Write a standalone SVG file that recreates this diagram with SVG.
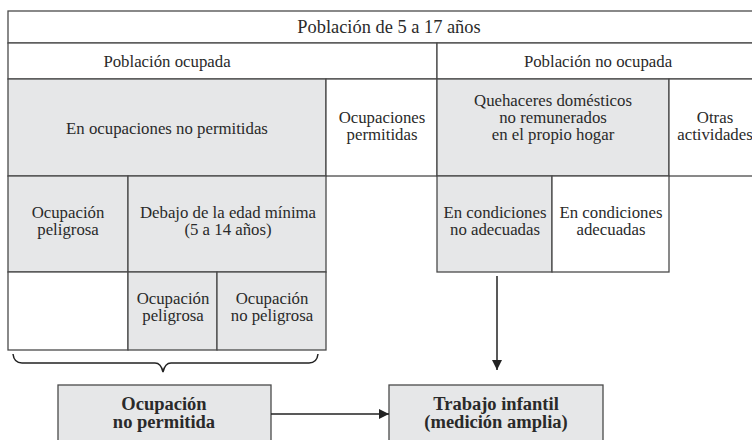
<svg xmlns="http://www.w3.org/2000/svg" width="752" height="440" viewBox="0 0 752 440">
<defs>
<style>
.c{stroke:#4a4a4a;stroke-width:1.3}
.g{fill:#e6e7e8}
.w{fill:#ffffff}
text{font-family:"Liberation Serif","Times New Roman",serif;fill:#2a2a2a;text-anchor:middle;font-size:16.8px}
.t{font-size:18.4px}
.b{font-weight:bold;font-size:18.5px}
.ln{stroke:#222;stroke-width:1.5;fill:none}
</style>
<marker id="ah" viewBox="0 0 10 10" refX="10" refY="5" markerWidth="10" markerHeight="10" markerUnits="userSpaceOnUse" orient="auto">
<path d="M0,0 L10,5 L0,10 z" fill="#222"/>
</marker>
</defs>
<rect width="752" height="440" fill="#fff"/>
<g id="title"><rect class="c w" x="8" y="11" width="752" height="32"/><text class="t" x="389" y="33">Población de 5 a 17 años</text></g>
<g id="pob_ocupada"><rect class="c w" x="8" y="43" width="429" height="36"/><text x="167" y="67">Población ocupada</text></g>
<g id="pob_no_ocupada"><rect class="c w" x="437" y="43" width="323" height="36"/><text x="598" y="67">Población no ocupada</text></g>
<g id="no_permitidas"><rect class="c g" x="8" y="79" width="318" height="97"/><text x="167" y="134">En ocupaciones no permitidas</text></g>
<g id="permitidas"><rect class="c w" x="326" y="79" width="111" height="97"/><text x="382" y="123">Ocupaciones</text><text x="382" y="140">permitidas</text></g>
<g id="quehaceres"><rect class="c g" x="437" y="79" width="232" height="97"/><text x="553" y="106">Quehaceres domésticos</text><text x="553" y="123">no remunerados</text><text x="553" y="140">en el propio hogar</text></g>
<g id="otras"><rect class="c w" x="669" y="79" width="91" height="97"/><text x="715" y="123">Otras</text><text x="715" y="140">actividades</text></g>
<g id="peligrosa1"><rect class="c g" x="8" y="176" width="120" height="96"/><text x="68" y="218">Ocupación</text><text x="68" y="235">peligrosa</text></g>
<g id="debajo"><rect class="c g" x="128" y="176" width="198" height="96"/><text x="228" y="218">Debajo de la edad mínima</text><text x="228" y="235">(5 a 14 años)</text></g>
<g id="no_adecuadas"><rect class="c g" x="437" y="176" width="115" height="96"/><text x="495" y="218">En condiciones</text><text x="495" y="235">no adecuadas</text></g>
<g id="adecuadas"><rect class="c w" x="552" y="176" width="117" height="96"/><text x="611" y="218">En condiciones</text><text x="611" y="235">adecuadas</text></g>
<g id="blank"><rect class="c w" x="8" y="272" width="120" height="78"/></g>
<g id="peligrosa2"><rect class="c g" x="128" y="272" width="89" height="78"/><text x="173" y="304">Ocupación</text><text x="173" y="321">peligrosa</text></g>
<g id="no_peligrosa"><rect class="c g" x="217" y="272" width="109" height="78"/><text x="272" y="304">Ocupación</text><text x="272" y="321">no peligrosa</text></g>
<g id="ocup_no_permitida"><rect class="c g" x="58" y="385" width="213" height="62"/><text class="b" x="164" y="410">Ocupación</text><text class="b" x="164" y="428">no permitida</text></g>
<g id="trabajo_infantil"><rect class="c g" x="389" y="385" width="214" height="62"/><text class="b" x="496" y="410">Trabajo infantil</text><text class="b" x="496" y="428">(medición amplia)</text></g>
<g id="connectors">
<path class="ln" d="M13,354 Q14,363 22,363 L155,363 Q161,363 163,372 Q165,363 171,363 L309,363 Q317,363 318,354"/>
<line class="ln" x1="271" y1="414" x2="389" y2="414" marker-end="url(#ah)"/>
<line class="ln" x1="497" y1="276" x2="497" y2="370" marker-end="url(#ah)"/>
</g>
</svg>
